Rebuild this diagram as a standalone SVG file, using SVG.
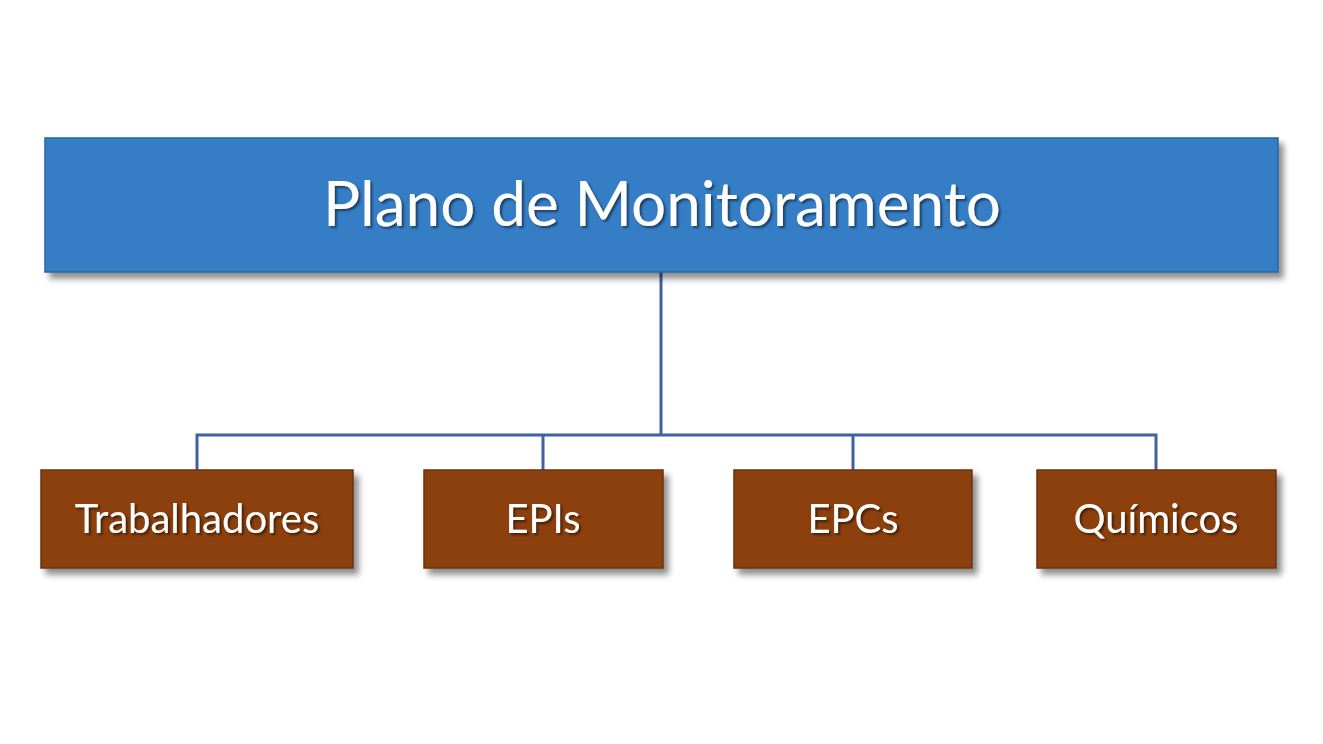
<svg xmlns="http://www.w3.org/2000/svg" width="1323" height="744" viewBox="0 0 1323 744">
<defs>
<filter id="sh" x="-5%" y="-10%" width="115%" height="130%"><feGaussianBlur in="SourceAlpha" stdDeviation="3"/><feOffset dx="5" dy="6"/><feComponentTransfer><feFuncA type="linear" slope="0.45"/></feComponentTransfer><feMerge><feMergeNode/><feMergeNode in="SourceGraphic"/></feMerge></filter>
<filter id="ts"><feDropShadow dx="2" dy="2" stdDeviation="1.2" flood-color="#000" flood-opacity="0.5"/></filter>
<style>
.top{fill:#367dc4;stroke:#2a64a0;stroke-width:1.5}
.sub{fill:#8b4110;stroke:#6b300a;stroke-width:1.5}
.t{font-family:Lato,"Open Sans",sans-serif;fill:#fff;text-anchor:middle;filter:url(#ts)}
.c{fill:none;stroke:#3f62a0;stroke-width:3}
</style>
</defs>
<rect width="1323" height="744" fill="#fff"/>
<g id="connectors">
<path class="c" d="M661 272V435M197 470V435H1156V470M543 435V470M853 435V470"/>
</g>
<g id="plano"><rect class="top" x="45" y="138" width="1233" height="134" filter="url(#sh)"/><text class="t" x="662" y="226" font-size="62">Plano de Monitoramento</text></g>
<g id="trabalhadores"><rect class="sub" x="41" y="470" width="312" height="98" filter="url(#sh)"/><text class="t" x="197" y="533" font-size="40">Trabalhadores</text></g>
<g id="epis"><rect class="sub" x="424" y="470" width="239" height="98" filter="url(#sh)"/><text class="t" x="543" y="533" font-size="40">EPIs</text></g>
<g id="epcs"><rect class="sub" x="734" y="470" width="238" height="98" filter="url(#sh)"/><text class="t" x="853" y="533" font-size="40">EPCs</text></g>
<g id="quimicos"><rect class="sub" x="1037" y="470" width="239" height="98" filter="url(#sh)"/><text class="t" x="1156" y="533" font-size="40">Químicos</text></g>
</svg>
